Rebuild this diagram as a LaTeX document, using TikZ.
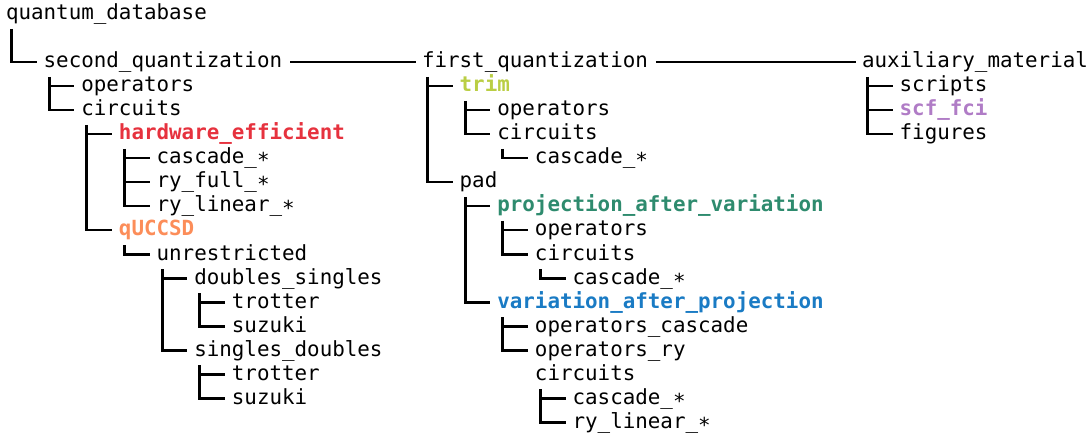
\documentclass[tikz,border=0pt]{standalone}
\usepackage{fontspec}
\newfontfamily\dvm{DejaVu Sans Mono}
\usetikzlibrary{calc}
\definecolor{cred}{RGB}{230,50,62}
\definecolor{corange}{RGB}{252,141,89}
\definecolor{ctrim}{RGB}{186,206,68}
\definecolor{cgreen}{RGB}{46,139,110}
\definecolor{cblue}{RGB}{26,123,196}
\definecolor{cpurple}{RGB}{176,124,198}
\tikzset{
  t/.style={anchor=base west,inner sep=0pt,outer sep=0pt,font=\dvm\fontsize{20.85}{24}\selectfont},
  tb/.style={t,font=\dvm\bfseries\fontsize{20.85}{24}\selectfont},
  tl/.style={line width=2.8pt,line join=miter,black},
}
\newcommand\vtree[2]{\draw[tl] let \p1=(#1.base west), \p2=(#2.base west) in (\x1+5.5pt,\y1-9pt) |- (\x2-7pt,\y2+5.9pt);}
\newcommand\hbr[2]{\draw[tl] let \p1=(#1.base west), \p2=(#2.base west) in (\x1+5.5pt,\y2+5.9pt) -- (\x2-7pt,\y2+5.9pt);}
\begin{document}
\begin{tikzpicture}[x=1pt,y=-1pt]
\useasboundingbox (0,0) rectangle (1091,438);
\def\LX#1{6+37.65*#1}
\def\FX#1{422+37.65*#1}
\def\AX#1{862+37.65*#1}
\def\RY#1{20+24*#1}
% left column
\node[t] (qd) at ({\LX{0}},{\RY{0}}) {quantum\_database};
\node[t] (sq) at ({\LX{1}},{\RY{2}}) {second\_quantization};
\node[t] (sqop) at ({\LX{2}},{\RY{3}}) {operators};
\node[t] (sqci) at ({\LX{2}},{\RY{4}}) {circuits};
\node[tb,text=cred] (he) at ({\LX{3}},{\RY{5}}) {hardware\_efficient};
\node[t] (hec) at ({\LX{4}},{\RY{6}}) {cascade\_∗};
\node[t] (hef) at ({\LX{4}},{\RY{7}}) {ry\_full\_∗};
\node[t] (hel) at ({\LX{4}},{\RY{8}}) {ry\_linear\_∗};
\node[tb,text=corange] (qu) at ({\LX{3}},{\RY{9}}) {qUCCSD};
\node[t] (un) at ({\LX{4}},{\RY{10}}) {unrestricted};
\node[t] (ds) at ({\LX{5}},{\RY{11}}) {doubles\_singles};
\node[t] (dst) at ({\LX{6}},{\RY{12}}) {trotter};
\node[t] (dss) at ({\LX{6}},{\RY{13}}) {suzuki};
\node[t] (sd) at ({\LX{5}},{\RY{14}}) {singles\_doubles};
\node[t] (sdt) at ({\LX{6}},{\RY{15}}) {trotter};
\node[t] (sds) at ({\LX{6}},{\RY{16}}) {suzuki};
% middle column
\node[t] (fq) at ({\FX{0}},{\RY{2}}) {first\_quantization};
\node[tb,text=ctrim] (tr) at ({\FX{1}},{\RY{3}}) {trim};
\node[t] (trop) at ({\FX{2}},{\RY{4}}) {operators};
\node[t] (trci) at ({\FX{2}},{\RY{5}}) {circuits};
\node[t] (trcc) at ({\FX{3}},{\RY{6}}) {cascade\_∗};
\node[t] (pad) at ({\FX{1}},{\RY{7}}) {pad};
\node[tb,text=cgreen] (pav) at ({\FX{2}},{\RY{8}}) {projection\_after\_variation};
\node[t] (pavop) at ({\FX{3}},{\RY{9}}) {operators};
\node[t] (pavci) at ({\FX{3}},{\RY{10}}) {circuits};
\node[t] (pavcc) at ({\FX{4}},{\RY{11}}) {cascade\_∗};
\node[tb,text=cblue] (vap) at ({\FX{2}},{\RY{12}}) {variation\_after\_projection};
\node[t] (vapoc) at ({\FX{3}},{\RY{13}}) {operators\_cascade};
\node[t] (vapor) at ({\FX{3}},{\RY{14}}) {operators\_ry};
\node[t] (vapci) at ({\FX{3}},{\RY{15}}) {circuits};
\node[t] (vapcc) at ({\FX{4}},{\RY{16}}) {cascade\_∗};
\node[t] (vaprl) at ({\FX{4}},{\RY{17}}) {ry\_linear\_∗};
% right column
\node[t] (am) at ({\AX{0}},{\RY{2}}) {auxiliary\_material};
\node[t] (sc) at ({\AX{1}},{\RY{3}}) {scripts};
\node[tb,text=cpurple] (sf) at ({\AX{1}},{\RY{4}}) {scf\_fci};
\node[t] (fi) at ({\AX{1}},{\RY{5}}) {figures};
% connectors
\vtree{qd}{sq}
\vtree{sq}{sqci} \hbr{sq}{sqop}
\vtree{sqci}{qu} \hbr{sqci}{he}
\vtree{he}{hel} \hbr{he}{hec} \hbr{he}{hef}
\vtree{qu}{un}
\vtree{un}{sd} \hbr{un}{ds}
\vtree{ds}{dss} \hbr{ds}{dst}
\vtree{sd}{sds} \hbr{sd}{sdt}
\vtree{fq}{pad} \hbr{fq}{tr}
\vtree{tr}{trci} \hbr{tr}{trop}
\vtree{trci}{trcc}
\vtree{pad}{vap} \hbr{pad}{pav}
\vtree{pav}{pavci} \hbr{pav}{pavop}
\vtree{pavci}{pavcc}
\vtree{vap}{vapor} \hbr{vap}{vapoc}
\vtree{vapci}{vaprl} \hbr{vapci}{vapcc}
\vtree{am}{fi} \hbr{am}{sc} \hbr{am}{sf}
\draw[tl] ($(sq.base east)+(8,-5.9)$) -- ($(fq.base west)+(-6,-5.9)$);
\draw[tl] ($(fq.base east)+(8,-5.9)$) -- ($(am.base west)+(-6,-5.9)$);
\end{tikzpicture}
\end{document}
